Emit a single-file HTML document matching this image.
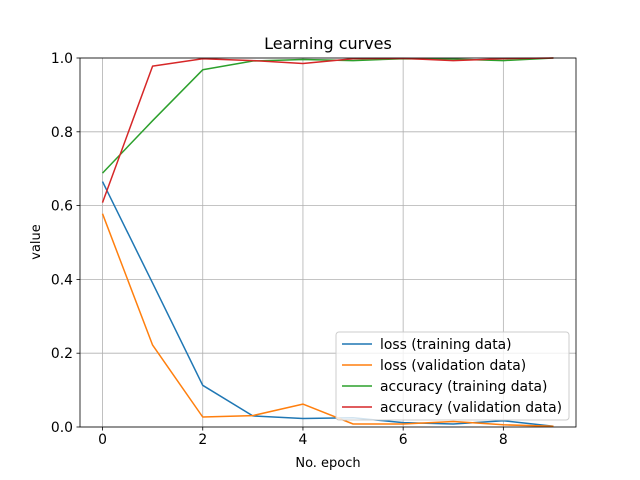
<!DOCTYPE html>
<html><head><meta charset="utf-8"><style>
html,body{margin:0;padding:0;background:#fff;}
svg{display:block;font-family:"DejaVu Sans","Liberation Sans",sans-serif;}
</style></head><body>
<svg id="chart" width="640" height="480">
<rect x="0" y="0" width="640" height="480" fill="#fff"/>
<g id="grid"></g>
<g id="series"></g>
<rect x="80" y="58" width="496" height="369" fill="none" stroke="#000" stroke-width="0.8"/>
<g id="ticks"></g>
<text x="328" y="49" text-anchor="middle" font-size="16">Learning curves</text>
<text x="328" y="467" text-anchor="middle" font-size="13">No. epoch</text>
<text x="0" y="0" text-anchor="middle" font-size="13" transform="translate(40,242) rotate(-90)">value</text>
<g id="legend"></g>
</svg>
<script>
const epochs=[0,1,2,3,4,5,6,7,8,9];
const lossTrain=[0.665,0.39,0.113,0.03,0.023,0.025,0.012,0.008,0.017,0.002];
const lossVal=[0.578,0.222,0.027,0.031,0.062,0.008,0.008,0.015,0.006,0.002];
const accTrain=[0.688,0.83,0.968,0.992,0.996,0.993,0.998,0.997,0.993,1.0];
const accVal=[0.608,0.978,0.998,0.993,0.985,0.998,0.999,0.993,0.998,1.0];
const seriesNames=["loss (training data)","loss (validation data)","accuracy (training data)","accuracy (validation data)"];
const xTicks=[0,2,4,6,8];
const yTicks=[0,0.2,0.4,0.6,0.8,1.0];
const yTickLabels=["0.0","0.2","0.4","0.6","0.8","1.0"];
const NS="http://www.w3.org/2000/svg";
const L=80,R=576,T=58,B=427,xmin=-0.45,xmax=9.45;
const xs=v=>L+(v-xmin)/(xmax-xmin)*(R-L);
const ys=v=>B-v*(B-T);
function mk(tag,attrs,parent){const e=document.createElementNS(NS,tag);for(const k in attrs)e.setAttribute(k,attrs[k]);parent.appendChild(e);return e;}
const grid=document.getElementById('grid'),ticks=document.getElementById('ticks');
xTicks.forEach(t=>{
 const g=mk('line',{x1:xs(t),x2:xs(t),y1:T,y2:B,stroke:'#b0b0b0','stroke-width':0.8},grid);
 
 
 const tk=mk('line',{x1:xs(t),x2:xs(t),y1:B,y2:B+3.5,stroke:'#000','stroke-width':0.8},ticks);
 
 
 const lb=mk('text',{x:xs(t),y:B+17,'text-anchor':'middle','font-size':13.9},ticks);
 lb.textContent=t;
 
 
});
yTicks.forEach((t,i)=>{
 const g=mk('line',{x1:L,x2:R,y1:ys(t),y2:ys(t),stroke:'#b0b0b0','stroke-width':0.8},grid);
 
 
 const tk=mk('line',{x1:L-3.5,x2:L,y1:ys(t),y2:ys(t),stroke:'#000','stroke-width':0.8},ticks);
 
 
 const lb=mk('text',{x:L-7,y:ys(t)+5,'text-anchor':'end','font-size':13.9},ticks);
 lb.textContent=yTickLabels[i];
 
 
});
const colors=['#1f77b4','#ff7f0e','#2ca02c','#d62728'];
const data=[lossTrain,lossVal,accTrain,accVal];
const series=document.getElementById('series');
const lineNames=['loss-training-line','loss-validation-line','accuracy-training-line','accuracy-validation-line'];
data.forEach((d,i)=>{
 const pts=epochs.map((e,j)=>xs(e).toFixed(1)+','+ys(d[j]).toFixed(1)).join(' ');
 const p=mk('polyline',{points:pts,fill:'none',stroke:colors[i],'stroke-width':1.5,'stroke-linejoin':'round'},series);
 
 
});
const lg=document.getElementById('legend');
const box=mk('rect',{x:336,y:332,width:233,height:88,rx:3,fill:'#fff','fill-opacity':0.8,stroke:'#ccc','stroke-width':1},lg);


seriesNames.forEach((n,i)=>{
 const y=344+i*21;
 const ln=mk('line',{x1:342,x2:372,y1:y,y2:y,stroke:colors[i],'stroke-width':1.5},lg);
 
 
 const t=mk('text',{x:380,y:y+5,'font-size':13.9},lg);
 t.textContent=n;
 
 
});
</script>
</body></html>
